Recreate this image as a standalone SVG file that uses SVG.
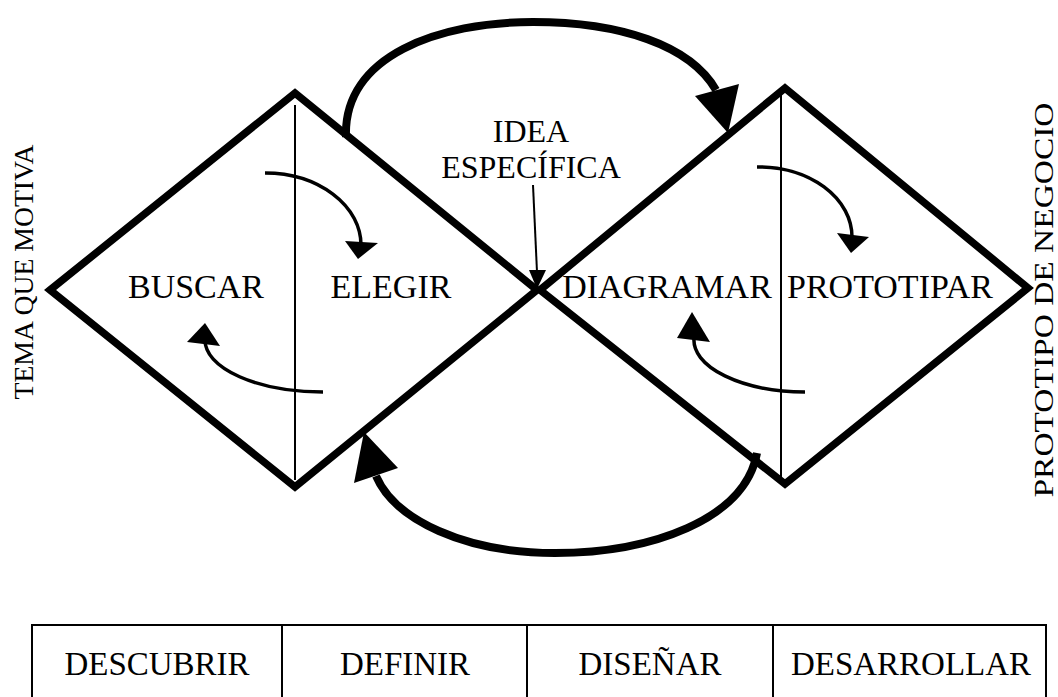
<svg xmlns="http://www.w3.org/2000/svg" width="1058" height="697" viewBox="0 0 1058 697">
<style>
  .dia{fill:none;stroke:#000;stroke-width:7.5;stroke-linejoin:miter;stroke-miterlimit:10}
  .split{stroke:#000;stroke-width:2}
  .big{fill:none;stroke:#000;stroke-width:8}
  .small{fill:none;stroke:#000;stroke-width:3.5}
  .thin{fill:none;stroke:#000;stroke-width:2}
  .head{fill:#000}
  .lbl{font-family:"Liberation Serif","Times New Roman",serif;font-size:34px;fill:#000;text-anchor:middle}
  .side{font-family:"Liberation Serif","Times New Roman",serif;font-size:28px;fill:#000;text-anchor:middle}
  .tbl{fill:none;stroke:#000;stroke-width:2}
</style>
<rect width="1058" height="697" fill="#fff"/>
<g id="diamond-left">
  <polygon class="dia" points="50,290 295,93 537,290 295,487"/>
  <line class="split" x1="295" y1="105" x2="295" y2="480"/>
  <text class="lbl" x="196" y="298">BUSCAR</text>
  <text class="lbl" x="391" y="298">ELEGIR</text>
</g>
<g id="diamond-right">
  <polygon class="dia" points="540,290 785,88 1028,288 785,484"/>
  <line class="split" x1="781" y1="95" x2="781" y2="478"/>
  <text class="lbl" x="667" y="298">DIAGRAMAR</text>
  <text class="lbl" x="890" y="298">PROTOTIPAR</text>
</g>
<g id="idea-label">
  <text class="lbl" x="531" y="142" style="font-size:32px">IDEA</text>
  <text class="lbl" x="531" y="178" style="font-size:32px">ESPECÍFICA</text>
</g>
<g id="side-left">
  <text class="side" transform="translate(33,272) rotate(-90)" textLength="255" lengthAdjust="spacingAndGlyphs">TEMA QUE MOTIVA</text>
</g>
<g id="side-right">
  <text class="side" transform="translate(1053,300) rotate(-90)" textLength="395" lengthAdjust="spacingAndGlyphs">PROTOTIPO DE NEGOCIO</text>
</g>
<g id="connectors">
  <path class="big" d="M346,137 C343,55 440,22 533,22 C620,22 690,45 716,90"/>
  <polygon class="head" points="695,96 739,84 728,133"/>
  <path class="big" d="M757,453 C745,520 650,553 555,553 C465,553 395,520 376,476"/>
  <polygon class="head" points="354,483 398,468 364,432"/>
  <path class="small" d="M265,173 A96,72 0 0 1 361,245"/>
  <polygon class="head" points="345,241 378,243 358,259"/>
  <path class="small" d="M323,392 A118,52 0 0 1 205,340"/>
  <polygon class="head" points="187,342 220,346 205,323"/>
  <path class="small" d="M757,167 A93,70 0 0 1 852,237"/>
  <polygon class="head" points="837,233 869,237 851,253"/>
  <path class="small" d="M805,392 A112,52 0 0 1 694,338"/>
  <polygon class="head" points="677,338 710,342 692,312"/>
  <line class="thin" x1="533" y1="185" x2="537" y2="272"/>
  <polygon class="head" points="529,270 546,270 537,289"/>
</g>
<g id="phase-table">
  <line class="tbl" x1="31" y1="625" x2="1047" y2="625"/>
  <line class="tbl" x1="32" y1="625" x2="32" y2="697"/>
  <line class="tbl" x1="282" y1="625" x2="282" y2="697"/>
  <line class="tbl" x1="527" y1="625" x2="527" y2="697"/>
  <line class="tbl" x1="773" y1="625" x2="773" y2="697"/>
  <line class="tbl" x1="1046" y1="625" x2="1046" y2="697"/>
  <text class="lbl" x="157" y="675" style="font-size:33px">DESCUBRIR</text>
  <text class="lbl" x="405" y="675" style="font-size:33px">DEFINIR</text>
  <text class="lbl" x="650" y="675" style="font-size:33px">DISEÑAR</text>
  <text class="lbl" x="911" y="675" style="font-size:33px">DESARROLLAR</text>
</g>
</svg>
